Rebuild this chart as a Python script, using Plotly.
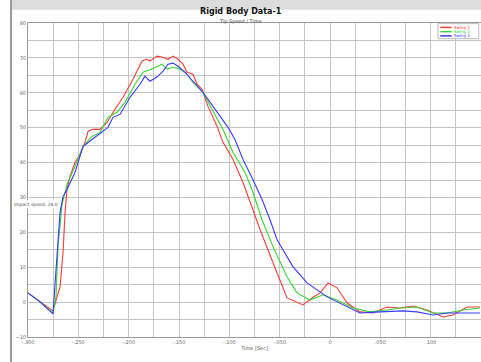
import plotly.graph_objects as go

# Time (s) and tip speed values for the three swings
t_red = [-0.3000, -0.2881, -0.2752, -0.2682, -0.2652, -0.2632, -0.2613, -0.2583, -0.2533, -0.2483,
         -0.2434, -0.2404, -0.2364, -0.2285, -0.2215, -0.2136, -0.2056, -0.1957, -0.1867, -0.1818,
         -0.1788, -0.1719, -0.1659, -0.1609, -0.1559, -0.1510, -0.1460, -0.1420, -0.1361, -0.1321,
         -0.1271, -0.1212, -0.1122, -0.1063, -0.0963, -0.0864, -0.0745, -0.0695, -0.0566, -0.0427,
         -0.0268, -0.0179, -0.0099, -0.0019, 0.0070, 0.0169, 0.0298, 0.0427, 0.0566, 0.0695,
         0.0825, 0.0964, 0.1123, 0.1222, 0.1361, 0.1490]
v_red = [2.65, 0.06, -2.5, 4.38, 14.15, 25.65, 32.26, 36.0, 40.0, 42.3,
         45.8, 48.9, 49.5, 49.5, 51.5, 55.3, 58.7, 63.9, 69.1, 69.6,
         69.1, 70.5, 70.2, 69.6, 70.5, 69.6, 68.2, 65.9, 65.3, 62.45,
         61.0, 56.1, 50.4, 45.8, 40.9, 34.3, 24.5, 20.8, 11.3, 1.2,
         -0.8, 1.2, 2.65, 5.5, 4.1, -0.2, -2.8, -3.1, -1.4, -1.7,
         -1.1, -2.24, -4.25, -3.7, -1.4, -1.4]

t_green = [-0.3000, -0.2881, -0.2752, -0.2722, -0.2702, -0.2662, -0.2613, -0.2533, -0.2454, -0.2364,
           -0.2285, -0.2205, -0.2116, -0.2036, -0.1937, -0.1858, -0.1768, -0.1669, -0.1619, -0.1559,
           -0.1490, -0.1420, -0.1361, -0.1262, -0.1172, -0.1063, -0.0963, -0.0844, -0.0775, -0.0675,
           -0.0566, -0.0427, -0.0328, -0.0199, -0.0069, 0.0070, 0.0229, 0.0397, 0.0566, 0.0695,
           0.0864, 0.1023, 0.1162, 0.1321, 0.1490]
v_green = [2.65, 0.06, -3.1, 1.5, 15.9, 27.95, 33.7, 38.9, 44.6, 47.5,
           48.65, 52.96, 54.4, 57.3, 62.45, 65.9, 66.8, 68.2, 66.8, 67.3,
           66.8, 65.3, 63.0, 60.15, 55.3, 49.5, 42.9, 37.15, 32.26, 23.6,
           15.9, 7.25, 2.65, 0.6, 2.1, 0.6, -1.7, -2.8, -2.24, -1.7,
           -1.4, -3.1, -3.1, -2.24, -1.7]

t_blue = [-0.3000, -0.2881, -0.2752, -0.2732, -0.2712, -0.2682, -0.2652, -0.2613, -0.2533, -0.2454,
          -0.2364, -0.2265, -0.2205, -0.2156, -0.2086, -0.1987, -0.1887, -0.1838, -0.1788, -0.1719,
          -0.1659, -0.1609, -0.1559, -0.1510, -0.1440, -0.1361, -0.1262, -0.1162, -0.1013, -0.0944,
          -0.0864, -0.0765, -0.0675, -0.0596, -0.0526, -0.0367, -0.0228, -0.0029, 0.0169, 0.0298,
          0.0497, 0.0725, 0.0864, 0.1023, 0.1162, 0.1292, 0.1490]
v_blue = [2.65, 0.06, -3.4, 4.38, 13.0, 25.65, 30.25, 32.26, 37.15, 44.6,
          46.6, 48.9, 50.1, 52.96, 53.8, 58.7, 62.45, 64.75, 63.3, 64.5,
          66.2, 68.2, 68.5, 67.6, 65.9, 63.3, 60.15, 56.1, 50.1, 46.6,
          40.9, 35.1, 29.4, 23.6, 17.9, 10.1, 5.5, 1.5, -1.4, -3.1,
          -2.8, -2.5, -2.8, -3.7, -3.1, -3.1, -3.1]

series_names = ["Swing 1", "Swing 2", "Swing 3"]
series_colors = ["#ff3a3a", "#36d436", "#3a3aff"]

x_ticks = [-0.30, -0.25, -0.20, -0.15, -0.10, -0.05, 0.0, 0.05, 0.10, 0.15]
x_tick_text = ["-.300", "-.250", "-.200", "-.150", "-.100", "-.050", "0", ".050", ".100", ".150"]
y_ticks = [-10, 0, 10, 20, 30, 40, 50, 60, 70, 80]

fig = go.Figure()
for t, v, name, color in zip([t_red, t_green, t_blue], [v_red, v_green, v_blue],
                             series_names, series_colors):
    fig.add_trace(go.Scatter(x=t, y=v, mode="lines", name=name,
                             line=dict(color=color, width=1.1)))

grid = "#c4c4c4"
fig.update_layout(
    width=481, height=362,
    margin=dict(l=28, r=0, t=23, b=25),
    paper_bgcolor="white", plot_bgcolor="white",
    font=dict(family="DejaVu Sans", size=5, color="#555555"),
    showlegend=False,
    xaxis=dict(range=[-0.30, 0.15], tickvals=x_ticks, ticktext=x_tick_text,
               showgrid=True, gridcolor=grid, gridwidth=1,
               minor=dict(dtick=0.025, showgrid=True, gridcolor=grid, gridwidth=1),
               showline=True, linecolor="#999999", linewidth=1, mirror=True,
               zeroline=False, ticks="", tickfont=dict(size=5, color="#666666"),
               title=dict(text="Time [Sec]", font=dict(size=5, color="#555555"), standoff=2)),
    yaxis=dict(range=[-10, 80], tickvals=y_ticks,
               showgrid=True, gridcolor=grid, gridwidth=1,
               minor=dict(dtick=5, showgrid=True, gridcolor=grid, gridwidth=1),
               showline=True, linecolor="#999999", linewidth=1, mirror=True,
               zeroline=False, ticks="", tickfont=dict(size=5, color="#666666")),
)

# Compact legend box in the upper-right corner
fig.add_shape(type="rect", xref="paper", yref="paper", x0=0.905, x1=0.995, y0=0.95, y1=0.998,
              fillcolor="white", line=dict(color="#bbbbbb", width=1))
for i, (name, color) in enumerate(zip(series_names, series_colors)):
    yy = 0.986 - i * 0.0135
    fig.add_shape(type="line", xref="paper", yref="paper", x0=0.91, x1=0.935, y0=yy, y1=yy,
                  line=dict(color=color, width=1.5))
    fig.add_annotation(text=name, xref="paper", yref="paper", x=0.938, y=yy,
                       xanchor="left", yanchor="middle", borderpad=0,
                       showarrow=False, font=dict(size=4, color=color))

# Window frame: title band, left border and bottom bar
fig.add_shape(type="rect", xref="paper", yref="paper", x0=-0.0375, x1=1.0, y0=1.042, y1=1.075,
              fillcolor="#dcdcdc", line=dict(width=0), layer="below")
fig.add_shape(type="line", xref="paper", yref="paper", x0=-0.0375, x1=-0.0375, y0=-0.08, y1=1.075,
              line=dict(color="#9a9a9a", width=2))
fig.add_shape(type="rect", xref="paper", yref="paper", x0=-0.0375, x1=1.0, y0=-0.08, y1=-0.1,
              fillcolor="black", line=dict(width=0))

fig.add_annotation(text="<b>Rigid Body Data-1</b>", xref="paper", yref="paper",
                   x=0.47, y=1.058, showarrow=False, font=dict(size=8, color="#111111"))
fig.add_annotation(text="Tip Speed / Time", xref="paper", yref="paper",
                   x=0.47, y=1.022, showarrow=False, font=dict(size=5, color="#444444"))
fig.add_annotation(text="Impact speed: 28.0", xref="paper", yref="y",
                   x=-0.035, y=27.95, xanchor="left", yanchor="middle", showarrow=False,
                   bgcolor="white", font=dict(size=4.5, color="#555555"))

fig.write_html("out.html")
